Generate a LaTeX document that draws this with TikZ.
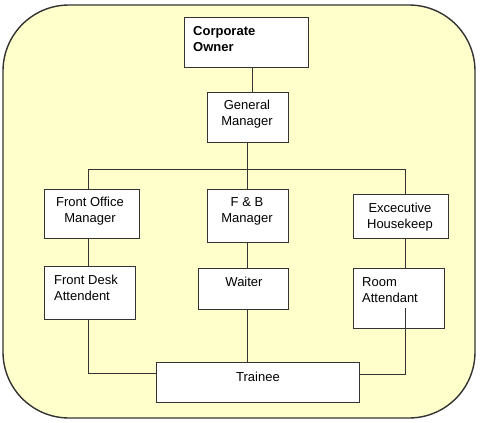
\documentclass[tikz,border=0pt]{standalone}
\usepackage{fontspec}
\setmainfont{Liberation Sans}
\definecolor{bgyellow}{RGB}{255,255,204}
\definecolor{edge}{RGB}{51,51,51}
\begin{document}
\begin{tikzpicture}[x=1pt,y=-1pt,
  box/.style={draw=edge,line width=0.9pt,fill=white,inner sep=0pt,rectangle},
  txt/.style={inner sep=0pt,font=\fontsize{13}{16}\selectfont,align=center},
  ltxt/.style={inner sep=0pt,font=\fontsize{13}{16}\selectfont,align=left,anchor=west},
  conn/.style={draw=edge,line width=0.9pt}]
\useasboundingbox (0,0) rectangle (480,423);
\draw[fill=bgyellow,draw=edge,line width=1.4pt,rounded corners=66pt] (3,5) rectangle (475,418);
% boxes
\node[box,minimum width=124pt,minimum height=50pt] (co) at (246,42) {};
\node[box,minimum width=81pt,minimum height=50pt] (gm) at (247.5,117) {};
\node[box,minimum width=95pt,minimum height=49pt] (fom) at (91.5,213.5) {};
\node[box,minimum width=81pt,minimum height=53pt] (fb) at (247.5,215.5) {};
\node[box,minimum width=95pt,minimum height=44pt] (eh) at (400.5,216) {};
\node[box,minimum width=91pt,minimum height=53pt] (fda) at (89.5,292.5) {};
\node[box,minimum width=90pt,minimum height=41pt] (wt) at (243,288.5) {};
\node[box,minimum width=91pt,minimum height=60pt] (ra) at (398.5,298) {};
\node[box,minimum width=203pt,minimum height=40pt] (tr) at (257.5,382) {};
% texts
\node[ltxt,font=\fontsize{13}{16}\selectfont\bfseries] (coT) at (193,39) {Corporate\\Owner};
\node[txt] (gmT) at (247,114) {General\\Manager};
\node[txt] (fomT) at (90,211) {Front Office\\Manager};
\node[txt] (fbT) at (247,211) {F \& B\\Manager};
\node[txt] (ehT) at (400,217) {Excecutive\\Housekeep};
\node[ltxt] (fdaT) at (54,288) {Front Desk\\Attendent};
\node[txt] (wtT) at (244,282) {Waiter};
\node[ltxt] (raT) at (362,290) {Room\\Attendant};
\node[txt] (trT) at (258,377) {Trainee};
% helper coordinates
\coordinate (cx) at (252,0);
\coordinate (busL) at (88,169);
\coordinate (busM) at (247,169);
\coordinate (busR) at (405,169);
\coordinate (junL) at (88,373);
\coordinate (junR) at (405,374);
\coordinate (raIn) at (405,308);
% connectors
\draw[conn] (co.south -| cx) -- (gm.north -| cx);
\draw[conn] (gm.south -| busM) -- (busM);
\draw[conn] (busL) -- (busR);
\draw[conn] (busL) -- (fom.north -| busL);
\draw[conn] (busM) -- (fb.north -| busM);
\draw[conn] (busR) -- (eh.north -| busR);
\draw[conn] (fom.south -| busL) -- (fda.north -| busL);
\draw[conn] (fb.south -| busM) -- (wt.north -| busM);
\draw[conn] (eh.south -| busR) -- (ra.north -| busR);
\draw[conn] (fda.south -| busL) -- (junL) -- (junL -| tr.west);
\draw[conn] (wt.south -| busM) -- (tr.north -| busM);
\draw[conn] (raIn) -- (junR) -- (junR -| tr.east);
\end{tikzpicture}
\end{document}
